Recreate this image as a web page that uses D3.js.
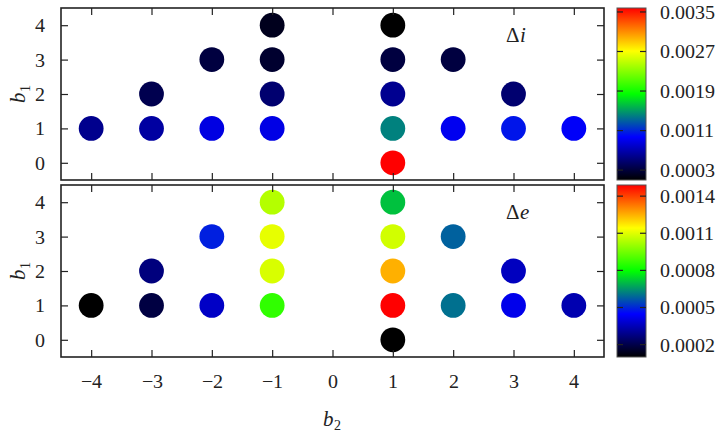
<!DOCTYPE html>
<html>
<head>
<meta charset="utf-8">
<script src="https://cdn.jsdelivr.net/npm/d3@7"></script>
<style>
  @font-face { font-family: 'PlotSerif'; font-style: normal;
    src: local('Liberation Serif'), local('LiberationSerif'), local('LiberationSerif-Regular'),
         local('DejaVu Serif'), local('DejaVuSerif'), local('Noto Serif'), local('NotoSerif-Regular'); }
  @font-face { font-family: 'PlotSerif'; font-style: italic;
    src: local('Liberation Serif Italic'), local('LiberationSerif-Italic'),
         local('DejaVu Serif Italic'), local('DejaVuSerif-Italic'), local('NotoSerif-Italic'); }
  body { margin: 0; background: #fff; }
  svg text { font-family: 'PlotSerif', 'Liberation Serif', 'DejaVu Serif', serif; fill: #222; }
</style>
</head>
<body>
<svg id="chart" width="725" height="434"></svg>
<script>
// grid positions shared by both panels
const b2 = [-4, -3, -3, -2, -2, -1, -1, -1, -1, 1, 1, 1, 1, 1, 2, 2, 3, 3, 4];
const b1 = [1, 1, 2, 1, 3, 1, 2, 3, 4, 0, 1, 2, 3, 4, 1, 3, 1, 2, 1];

// values
const deltaI = [0.00058, 0.00065, 0.00037, 0.00087, 0.00032, 0.00088, 0.00048, 0.00026, 0.00020,
                0.00358, 0.00141, 0.00059, 0.00032, 0.00010, 0.00092, 0.00032, 0.00104, 0.00048, 0.00095];
const deltaE = [0.00010, 0.00019, 0.00027, 0.00037, 0.00049, 0.00086, 0.00109, 0.00111, 0.00104,
                0.00010, 0.00149, 0.00125, 0.00108, 0.00071, 0.00060, 0.00058, 0.00042, 0.00036, 0.00034];

const xTicks = [-4, -3, -2, -1, 0, 1, 2, 3, 4];
const yTicks = [0, 1, 2, 3, 4];
const cbTicksI = [0.0003, 0.0011, 0.0019, 0.0027, 0.0035];
const cbTicksE = [0.0002, 0.0005, 0.0008, 0.0011, 0.0014];

const paletteStops = [0, 0.25, 0.5, 0.75, 1];
const paletteColors = ['#000000', '#0000ff', '#00ff00', '#ffff00', '#ff0000'];

const FONT = "'PlotSerif', 'Liberation Serif', 'DejaVu Serif', serif";

const svg = d3.select('#chart');
const left = 61, right = 604;
const x = d3.scaleLinear().domain([-4.5, 4.5]).range([left, right]);

const fmtMinus = d => d3.format('d')(d).replace('-', '\u2212');

const defs = svg.append('defs');
const grad = defs.append('linearGradient').attr('id', 'pal')
  .attr('x1', 0).attr('y1', 1).attr('x2', 0).attr('y2', 0);
grad.selectAll('stop').data(paletteStops).join('stop')
  .attr('offset', d => d)
  .attr('stop-color', (d, i) => paletteColors[i]);

function panel(top, bottom, values, cbTicks, label, showX) {
  const y = d3.scaleLinear().domain([-0.5, 4.5]).range([bottom, top]);
  const ext = d3.extent(values);
  const color = d3.scaleLinear()
    .domain(paletteStops.map(t => ext[0] + t * (ext[1] - ext[0])))
    .range(paletteColors)
    .interpolate(d3.interpolateRgb);

  const g = svg.append('g');

  g.selectAll('circle.pt').data(values).join('circle')
    .attr('class', 'pt')
    .attr('cx', (d, i) => x(b2[i]))
    .attr('cy', (d, i) => y(b1[i]))
    .attr('r', 12.4)
    .attr('fill', d => color(d));

  // inward ticks on all four sides
  const axB = g.append('g').attr('transform', `translate(0,${bottom})`)
    .call(d3.axisBottom(x).tickValues(xTicks).tickSize(-7).tickPadding(17).tickFormat(fmtMinus));
  const axT = g.append('g').attr('transform', `translate(0,${top})`)
    .call(d3.axisTop(x).tickValues(xTicks).tickSize(-7).tickFormat(''));
  const axL = g.append('g').attr('transform', `translate(${left},0)`)
    .call(d3.axisLeft(y).tickValues(yTicks).tickSize(-7).tickPadding(16).tickFormat(d3.format('d')));
  const axR = g.append('g').attr('transform', `translate(${right},0)`)
    .call(d3.axisRight(y).tickValues(yTicks).tickSize(-7).tickFormat(''));
  [axB, axT, axL, axR].forEach(a => {
    a.attr('font-family', FONT).attr('font-size', 20);
    a.select('.domain').remove();
    a.selectAll('line').attr('stroke', '#222').attr('stroke-width', 1.2);
    a.selectAll('text').attr('fill', '#222');
  });
  if (!showX) axB.selectAll('text').remove();

  g.append('rect')
    .attr('x', left).attr('y', top)
    .attr('width', right - left).attr('height', bottom - top)
    .attr('fill', 'none').attr('stroke', '#222').attr('stroke-width', 1.6);

  // y label b1
  const yl = g.append('text')
    .attr('transform', `translate(25,${(top + bottom) / 2}) rotate(-90)`)
    .attr('text-anchor', 'middle')
    .attr('font-size', 21);
  yl.append('tspan').attr('font-style', 'italic').text('b');
  yl.append('tspan').attr('dy', 5).attr('font-size', 14).text('1');

  // panel annotation
  const an = g.append('text').attr('x', 506).attr('y', top + 34).attr('font-size', 21);
  an.append('tspan').text('\u0394');
  an.append('tspan').attr('font-style', 'italic').text(label);

  // colorbar
  const cbL = 617, cbR = 646;
  const cy = d3.scaleLinear().domain(ext).range([bottom, top]);
  g.append('rect')
    .attr('x', cbL).attr('y', top).attr('width', cbR - cbL).attr('height', bottom - top)
    .attr('fill', 'url(#pal)').attr('stroke', '#555').attr('stroke-width', 1);
  const cbAx = g.append('g').attr('transform', `translate(${cbR},0)`)
    .call(d3.axisRight(cy).tickValues(cbTicks).tickSize(0).tickPadding(14).tickFormat(d3.format('.4f')));
  cbAx.attr('font-family', FONT).attr('font-size', 20);
  cbAx.select('.domain').remove();
  cbAx.selectAll('text').attr('fill', '#222');
  g.selectAll('line.cbl').data(cbTicks).join('line').attr('class', 'cbl')
    .attr('x1', cbL).attr('x2', cbL + 6).attr('y1', d => cy(d)).attr('y2', d => cy(d))
    .attr('stroke', '#222').attr('stroke-width', 1.2);
  g.selectAll('line.cbr').data(cbTicks).join('line').attr('class', 'cbr')
    .attr('x1', cbR - 6).attr('x2', cbR).attr('y1', d => cy(d)).attr('y2', d => cy(d))
    .attr('stroke', '#222').attr('stroke-width', 1.2);
}

panel(8, 180, deltaI, cbTicksI, 'i', false);
panel(185, 357, deltaE, cbTicksE, 'e', true);

// x label b2
const xl = svg.append('text')
  .attr('x', 332).attr('y', 426)
  .attr('text-anchor', 'middle')
  .attr('font-size', 21);
xl.append('tspan').attr('font-style', 'italic').text('b');
xl.append('tspan').attr('dy', 4).attr('font-size', 14).text('2');
</script>
</body>
</html>
